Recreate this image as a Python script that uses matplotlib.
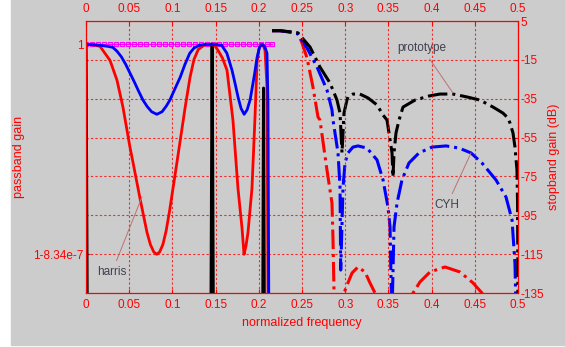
import numpy as np
import matplotlib
matplotlib.use("Agg")
import matplotlib.pyplot as plt
from matplotlib.patches import Rectangle

nan = np.nan
plt.rcParams['font.family'] = ['Liberation Sans', 'DejaVu Sans']

# passband: deviation from 1, in units of 1e-7
harris_pf = [0.0, 0.006, 0.0162, 0.0278, 0.0359, 0.0428, 0.0509, 0.0544, 0.0625, 0.0706, 0.0745,
             0.0785, 0.0818, 0.0852, 0.089, 0.0928, 0.0968, 0.1007, 0.105, 0.11, 0.115, 0.1204,
             0.125, 0.13, 0.1375, 0.1435, 0.149, 0.1528, 0.158, 0.1632, 0.1701, 0.1759, 0.1806,
             0.1829, 0.1852, 0.1875, 0.1921, 0.1956, 0.1979, 0.2, 0.2025, 0.205, 0.2072, 0.2095, 0.211]
harris_pd = [0.0, -0.01, -0.08, -0.64, -1.43, -2.5, -4.09, -4.69, -6.12, -7.47, -7.95,
             -8.25, -8.34, -8.25, -7.95, -7.4, -6.6, -5.72, -4.75, -3.6, -2.45, -1.31,
             -0.6, -0.2, -0.02, 0.0, -0.05, -0.24, -0.55, -1.03, -3.02, -5.72, -7.31,
             -8.34, -8.0, -7.47, -5.72, -2.9, -0.75, -0.2, 0.0, -0.05, -0.24, -1.71, -12]

cyh_pf = [0.0, 0.01, 0.0162, 0.025, 0.031, 0.036, 0.041, 0.046, 0.051, 0.056, 0.061, 0.066,
          0.071, 0.076, 0.082, 0.088, 0.093, 0.097, 0.1025, 0.109, 0.1145, 0.12, 0.125, 0.131,
          0.137, 0.1435, 0.15, 0.157, 0.163, 0.169, 0.1725, 0.176, 0.1795, 0.183, 0.1865, 0.19,
          0.195, 0.198, 0.201, 0.204, 0.207, 0.2095, 0.2106, 0.2118]
cyh_pd = [0.0, -0.02, -0.04, -0.08, -0.12, -0.28, -0.5, -0.8, -1.15, -1.5, -1.87, -2.22,
          -2.48, -2.68, -2.78, -2.68, -2.45, -2.22, -1.8, -1.31, -0.8, -0.36, -0.15, -0.04,
          -0.01, 0.0, -0.01, -0.04, -0.35, -1.03, -1.55, -2.1, -2.55, -2.78, -2.6, -2.2,
          -1.2, -0.52, -0.1, 0.0, -0.1, -0.36, -2.34, -12]

proto_pf = [0.0, 0.0016, nan, 0.1445, 0.146, 0.1475, nan, 0.2045, 0.2055, 0.2065]
proto_pd = [0.0, -12, nan, -12, 0.0, -12, nan, -12, -1.74, -12]

ideal_f = [0.0, 0.007, 0.014, 0.021, 0.028, 0.035, 0.042, 0.049, 0.056, 0.063, 0.07, 0.077,
           0.084, 0.091, 0.098, 0.105, 0.112, 0.119, 0.126, 0.133, 0.14, 0.147, 0.154, 0.161,
           0.168, 0.175, 0.182, 0.189, 0.196, 0.203, 0.21, 0.2155]
ideal_d = [0.0] * len(ideal_f)

# stopband gain, dB
proto_sf = [0.2153, 0.2245, 0.2396, 0.2454, 0.2593, 0.2708, 0.2824, 0.2905, 0.294, 0.2963, 0.2986,
            0.302, 0.3032, 0.309, 0.317, 0.3264, 0.3368, 0.3438, 0.3484, 0.3519, 0.3542, 0.3553,
            0.3565, 0.3588, 0.3623, 0.3669, 0.3808, 0.397, 0.4097, 0.4248, 0.441, 0.456, 0.4711,
            0.4826, 0.4884, 0.4907, 0.4942, 0.4965, 0.4988, 0.4995, 0.5]
proto_sd = [0, 0, -0.7, -1.2, -8.4, -18.7, -26.9, -35.7, -42.4, -62.9, -42.4,
            -35.7, -34.1, -32.6, -32.6, -34.6, -38.2, -43.4, -46.0, -56.2, -62.9, -75.3,
            -62.9, -52.6, -46.0, -39.3, -35.7, -33.6, -32.6, -32.6, -34.1, -35.7, -39.3,
            -42.4, -44.9, -47.5, -52.6, -59.9, -71.7, -88.7, -150]

cyh_sf = [0.2153, 0.2245, 0.2442, 0.2558, 0.2674, 0.2789, 0.2847, 0.2859, 0.2917, 0.294, 0.2948,
          0.2975, 0.2998, 0.3032, 0.309, 0.3148, 0.3252, 0.3368, 0.3438, 0.3495, 0.3519, 0.354,
          0.3565, 0.36, 0.3657, 0.3738, 0.3854, 0.4005, 0.4167, 0.4317, 0.4456, 0.4583, 0.4745,
          0.4861, 0.4931, 0.4965, 0.498]
cyh_sd = [0, 0, -1.2, -8.9, -18.7, -30.5, -40.8, -46.0, -62.9, -80.4, -123.2,
          -80.4, -68.1, -62.9, -59.9, -59.3, -60.4, -66.5, -76.8, -90.7, -101, -150,
          -101, -88.7, -76.8, -68.1, -62.9, -59.9, -59.3, -60.4, -62.9, -68.1, -76.8,
          -85.6, -97.4, -120, -150]

harris_sf = [0.2153, 0.2245, 0.2454, 0.25, 0.2558, 0.2627, 0.2685, 0.2708, 0.2789, 0.2847, 0.2859,
             0.287, 0.289, 0.2925, 0.2986, 0.3032, 0.3079, 0.3148, 0.3229, 0.3287, 0.3345, 0.354,
             0.3785, 0.3866, 0.3981, 0.4155, 0.4329, 0.4479, 0.4583, 0.48, 0.5]
harris_sd = [0, 0, -1.2, -6.3, -14.0, -29.0, -44.4, -46.0, -71.7, -88.7, -107.7,
             -133.5, -150, -170, -135, -129.8, -124.7, -121.6, -124.2, -129.8, -135, -170,
             -135, -129.3, -124.2, -121.6, -124.2, -129.8, -135, -170, -150]

xticks = [0, 0.05, 0.1, 0.15, 0.2, 0.25, 0.3, 0.35, 0.4, 0.45, 0.5]
xticklabels = ["0", "0.05", "0.1", "0.15", "0.2", "0.25", "0.3", "0.35", "0.4", "0.45", "0.5"]
db_ticks = [5, -15, -35, -55, -75, -95, -115, -135]
pass_ticks = [0.0, -8.34]
pass_labels = ["1", "1-8.34e-7"]

red = "#ff0000"
grid_kw = dict(color=red, linestyle=(0, (2, 2)), linewidth=0.8, alpha=0.8)

fig = plt.figure(figsize=(5.65, 3.47), dpi=100, facecolor="white")
fig.patches.append(Rectangle((11 / 565, 2 / 347), 1 - 11 / 565, 1 - 2 / 347,
                             transform=fig.transFigure, color="#cccccc", zorder=-5))

ax = fig.add_axes([86 / 565, 1 - 293 / 347, 432 / 565, 272 / 347])
ax2 = ax.twinx()
ax.set_zorder(ax2.get_zorder() + 1)
ax.patch.set_visible(False)
ax2.patch.set_facecolor("white")

# stopband (right axis)
ax2.plot(harris_sf, harris_sd, color=red, linestyle="-.", linewidth=2.2)
ax2.plot(cyh_sf, cyh_sd, color="blue", linestyle="-.", linewidth=2.2)
ax2.plot(proto_sf, proto_sd, color="black", linestyle="-.", linewidth=2.2)
ax2.set_ylim(-135, 5)
ax2.set_yticks(db_ticks)
ax2.set_yticklabels([str(t) for t in db_ticks])
ax2.yaxis.grid(True, **grid_kw)
ax2.set_ylabel("stopband gain (dB)", color=red, fontsize=9)
ax2.yaxis.set_label_coords(1.069, 0.5)

# passband (left axis)
ax.plot(ideal_f, ideal_d, color="magenta", marker="s", markersize=3, mfc="none",
        linewidth=0.8, markeredgewidth=0.8)
ax.plot(proto_pf, proto_pd, color="black", linewidth=2.2)
ax.plot(harris_pf, harris_pd, color=red, linewidth=2)
ax.plot(cyh_pf, cyh_pd, color="blue", linewidth=2)
ax.set_xlim(0, 0.5)
ax.set_ylim(-9.877, 0.925)
ax.set_yticks(pass_ticks)
ax.set_yticklabels(pass_labels)
ax.set_xticks(xticks)
ax.set_xticklabels(xticklabels)
ax.xaxis.grid(True, **grid_kw)
ax.set_xlabel("normalized frequency", color=red, fontsize=9)
ax.xaxis.set_label_coords(0.5, -0.088)
ax.set_ylabel("passband gain", color=red, fontsize=9)
ax.yaxis.set_label_coords(-0.141, 0.5)

for a in (ax, ax2):
    for s in a.spines.values():
        s.set_color(red)
    a.tick_params(colors=red, labelcolor=red, direction="in", length=3, labelsize=8.5)
ax.tick_params(axis="x", top=True, labeltop=True, pad=4)
ax.tick_params(axis="y", right=False, pad=2)
ax2.tick_params(axis="y", pad=2)

note_kw = dict(fontsize=8.5, color="#404050", ha="center", va="center",
               arrowprops=dict(arrowstyle="-", color="#c07070", linewidth=0.7, shrinkA=2, shrinkB=0))
ax2.annotate("prototype", xy=(0.4248, -32.1), xytext=(0.389, -8.9), **note_kw)
ax2.annotate("CYH", xy=(0.4456, -62.9), xytext=(0.4178, -89.7), **note_kw)
ax.annotate("harris", xy=(0.0648, -6.06), xytext=(0.0301, -9.04), **note_kw)

plt.savefig("out.png", dpi=100, facecolor=fig.get_facecolor())
